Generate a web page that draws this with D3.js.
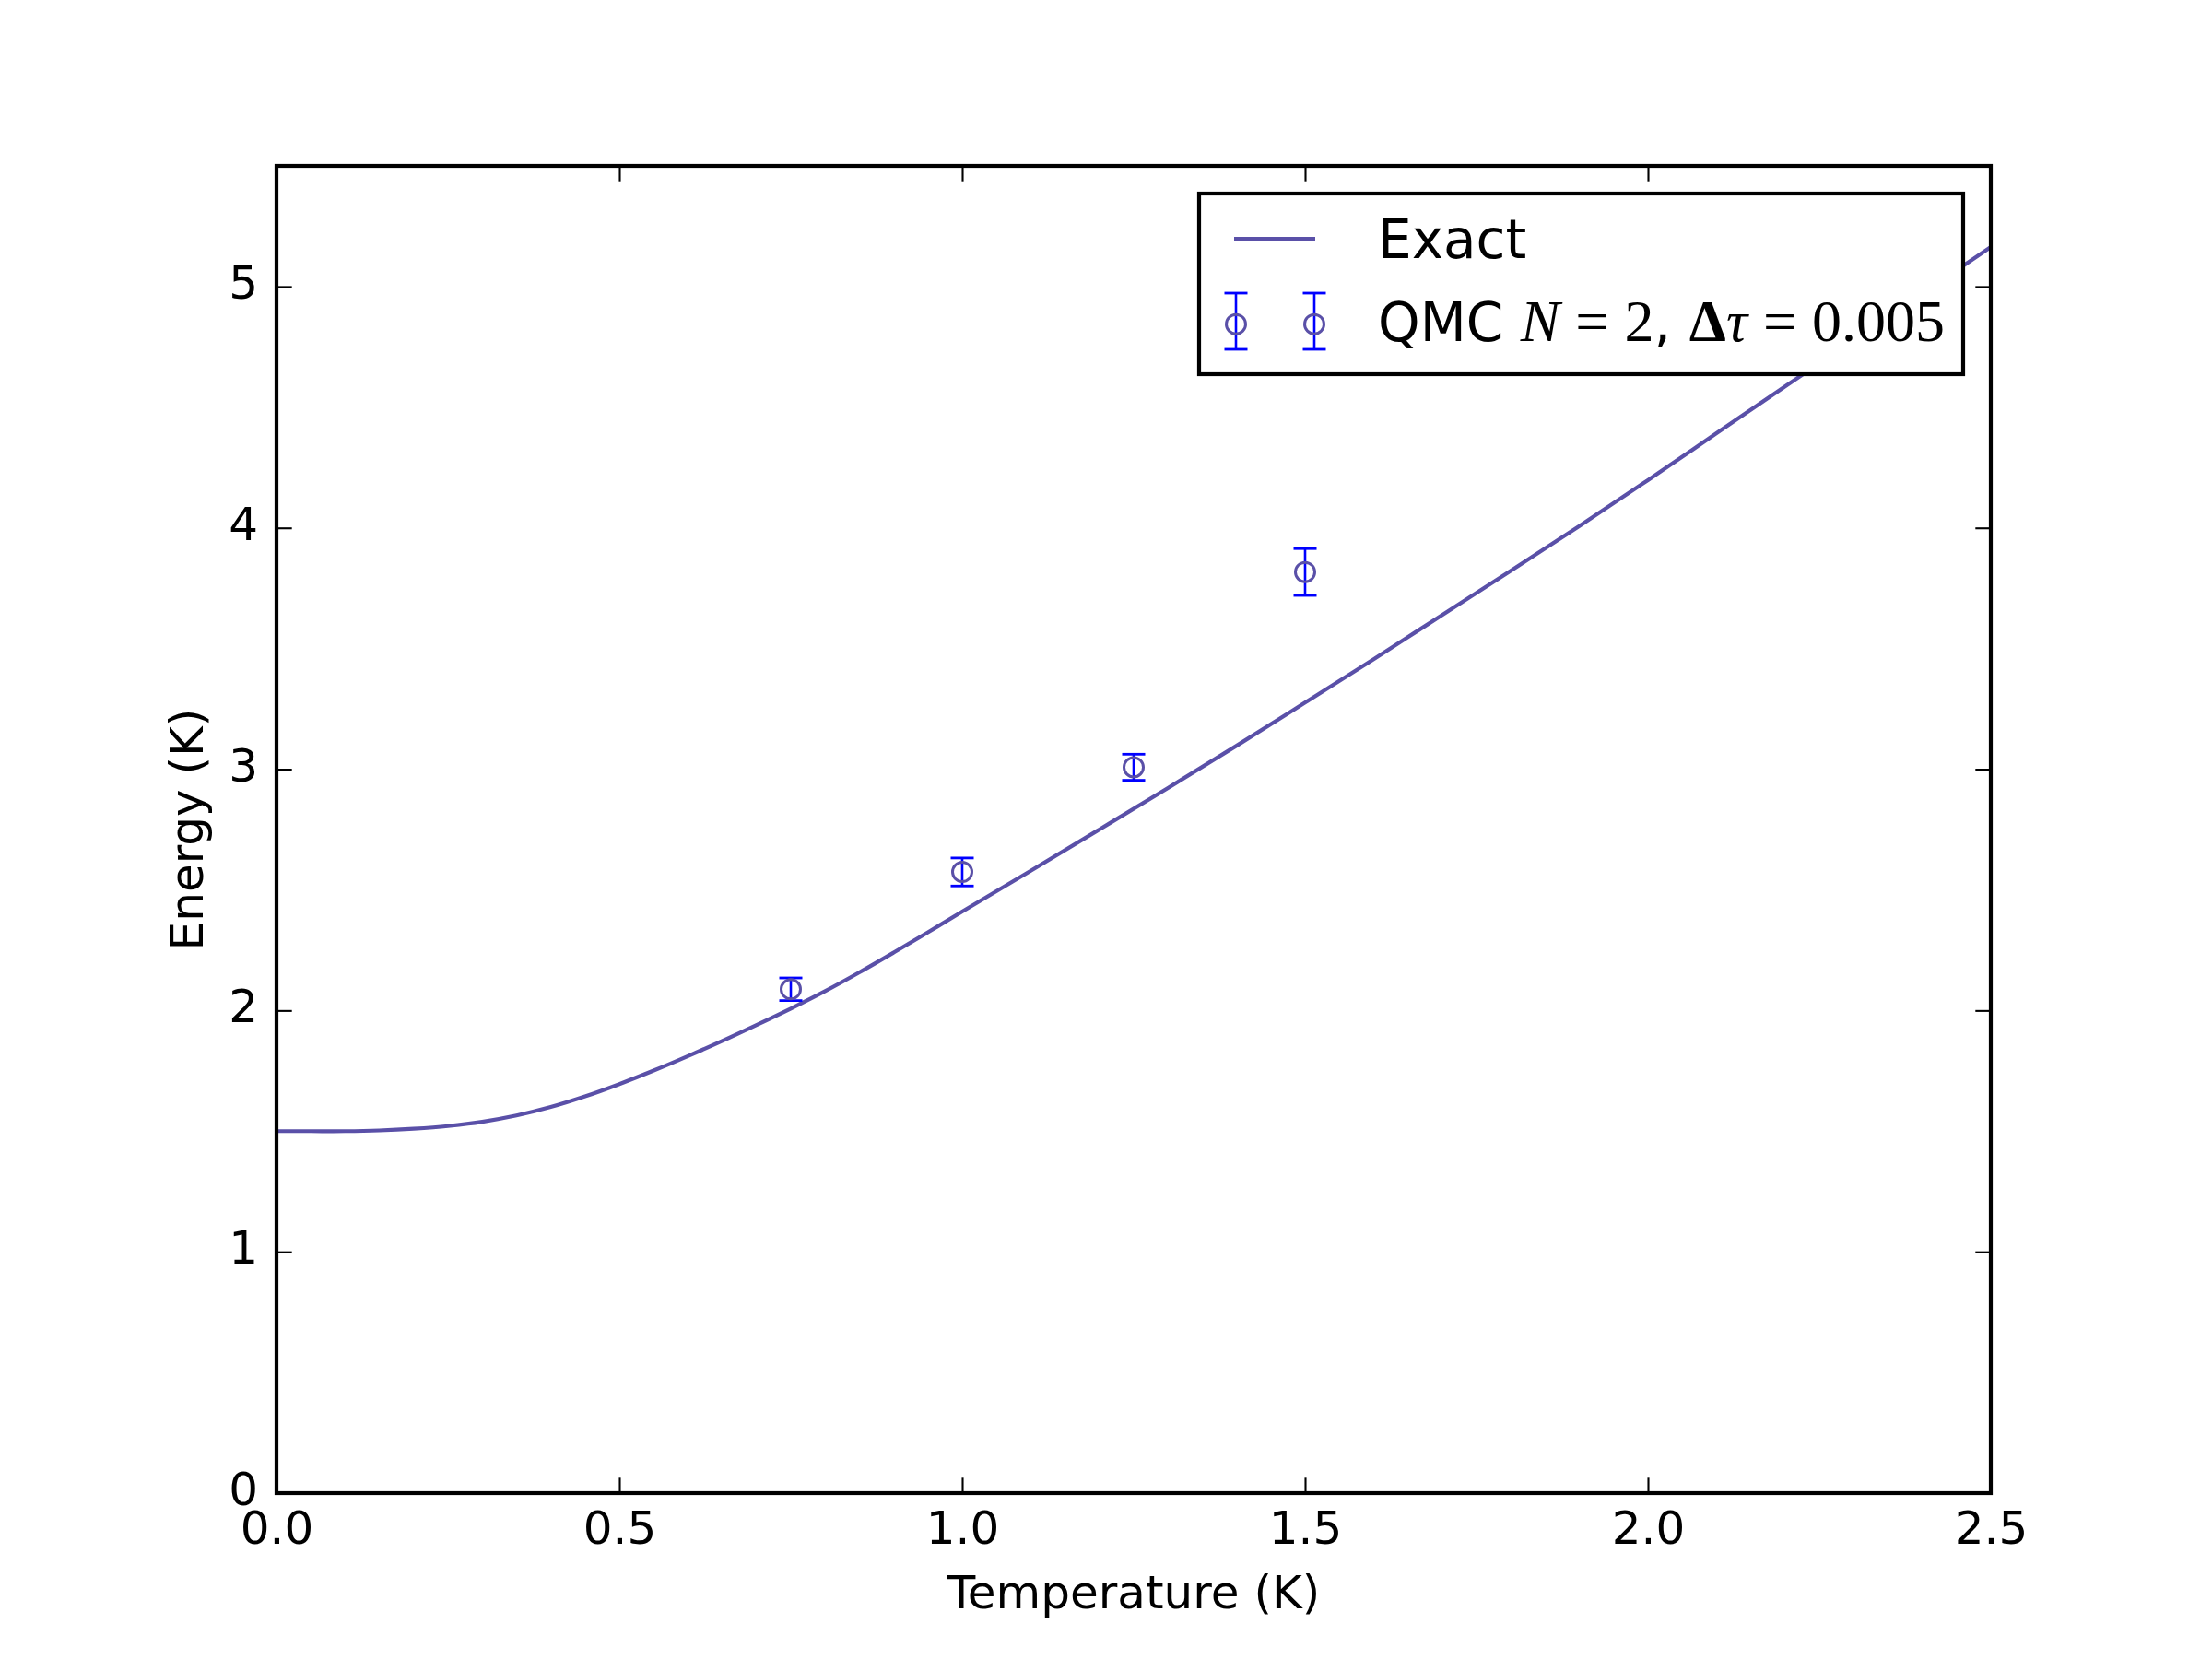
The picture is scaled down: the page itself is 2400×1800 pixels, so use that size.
<!DOCTYPE html>
<html>
<head>
<meta charset="utf-8">
<script src="https://cdn.jsdelivr.net/npm/d3@7"></script>
<style>
  html, body { margin: 0; padding: 0; background: #ffffff; }
  svg { display: block; }
</style>
</head>
<body>
<svg id="chart" width="2400" height="1800"></svg>
<script>
// ---- data ----
const exactT = [0, 0.05, 0.1, 0.15, 0.2, 0.25, 0.3, 0.35, 0.4, 0.45, 0.5, 0.55, 0.6, 0.65, 0.7, 0.75, 0.8, 0.85, 0.9, 0.95, 1.0, 1.1, 1.2, 1.3, 1.4, 1.5, 1.6, 1.7, 1.8, 1.9, 2.0, 2.1, 2.2, 2.3, 2.4, 2.5];
const exactE = [1.500, 1.500, 1.500, 1.503, 1.510, 1.521, 1.539, 1.565, 1.600, 1.644, 1.695, 1.751, 1.811, 1.874, 1.940, 2.008, 2.080, 2.158, 2.240, 2.324, 2.410, 2.579, 2.750, 2.922, 3.097, 3.276, 3.456, 3.639, 3.822, 4.008, 4.198, 4.392, 4.586, 4.778, 4.970, 5.164];
const qmcT = [0.75, 1.0, 1.25, 1.5];
const qmcE = [2.088, 2.574, 3.008, 3.817];
const qmcErr = [0.047, 0.058, 0.054, 0.097];
const xTicks = [0.0, 0.5, 1.0, 1.5, 2.0, 2.5];
const yTicks = [0, 1, 2, 3, 4, 5];
const xLabel = "Temperature (K)";
const yLabel = "Energy (K)";
const legendExact = "Exact";

// ---- layout ----
const L = 300, R = 2160, T = 180, B = 1620;
const lineColor = "#5a50a8";
const errColor = "#0000ff";
const svg = d3.select("#chart");
const x = d3.scaleLinear().domain([0, 2.5]).range([L, R]);
const y = d3.scaleLinear().domain([0, 5.5]).range([B, T]);

svg.append("defs").append("clipPath").attr("id", "plotclip")
  .append("rect").attr("x", L).attr("y", T).attr("width", R - L).attr("height", B - T);

const sans = "'DejaVu Sans', sans-serif";
const serif = "'Liberation Serif', 'DejaVu Serif', serif";
const tickLen = 16.7;

// axes (ticks inward on all four sides)
const gx = svg.append("g").attr("transform", `translate(0,${B})`)
  .call(d3.axisBottom(x).tickValues(xTicks).tickFormat(d3.format(".1f")).tickSizeInner(-tickLen).tickSizeOuter(0).tickPadding(19.5));
const gxt = svg.append("g").attr("transform", `translate(0,${T})`)
  .call(d3.axisTop(x).tickValues(xTicks).tickFormat("").tickSizeInner(-tickLen).tickSizeOuter(0));
const gy = svg.append("g").attr("transform", `translate(${L},0)`)
  .call(d3.axisLeft(y).tickValues(yTicks).tickFormat(d3.format("d")).tickSizeInner(-tickLen).tickSizeOuter(0).tickPadding(20));
const gyr = svg.append("g").attr("transform", `translate(${R},0)`)
  .call(d3.axisRight(y).tickValues(yTicks).tickFormat("").tickSizeInner(-tickLen).tickSizeOuter(0));

[gx, gxt, gy, gyr].forEach(g => {
  g.select(".domain").remove();
  g.selectAll(".tick line").attr("stroke", "#000").attr("stroke-width", 2.1);
  g.selectAll(".tick text").attr("fill", "#000").style("font-family", sans).style("font-size", "50px");
});
gy.selectAll(".tick text").attr("dy", "0.25em");

// exact curve
const line = d3.line().x((d, i) => x(exactT[i])).y(d => y(d)).curve(d3.curveCatmullRom.alpha(0.5));
svg.append("path").datum(exactE)
  .attr("clip-path", "url(#plotclip)")
  .attr("d", line)
  .attr("fill", "none").attr("stroke", lineColor).attr("stroke-width", 4.2)
  .attr("stroke-linejoin", "round");

// QMC error bars
const capW = 12.5;
const pts = svg.append("g");
qmcT.forEach((t, i) => {
  const cx = x(t), y1 = y(qmcE[i] + qmcErr[i]), y0 = y(qmcE[i] - qmcErr[i]);
  pts.append("line").attr("x1", cx).attr("x2", cx).attr("y1", y1).attr("y2", y0)
    .attr("stroke", errColor).attr("stroke-width", 2.6);
  [y1, y0].forEach(yy => pts.append("line").attr("x1", cx - capW).attr("x2", cx + capW)
    .attr("y1", yy).attr("y2", yy).attr("stroke", errColor).attr("stroke-width", 2.8));
});
pts.selectAll("circle.m").data(qmcE).join("circle").attr("class", "m")
  .attr("cx", (d, i) => x(qmcT[i])).attr("cy", d => y(d)).attr("r", 10.5)
  .attr("fill", "none").attr("stroke", lineColor).attr("stroke-width", 3);

// frame
svg.append("rect").attr("x", L).attr("y", T).attr("width", R - L).attr("height", B - T)
  .attr("fill", "none").attr("stroke", "#000").attr("stroke-width", 4.2);

// axis labels
svg.append("text").attr("x", (L + R) / 2).attr("y", 1745).attr("text-anchor", "middle")
  .style("font-family", sans).style("font-size", "50px").text(xLabel);
svg.append("text").attr("transform", `translate(220,${(T + B) / 2}) rotate(-90)`).attr("text-anchor", "middle")
  .style("font-family", sans).style("font-size", "50px").text(yLabel);

// legend
const lg = svg.append("g");
lg.append("rect").attr("x", 1301).attr("y", 210).attr("width", 829).attr("height", 196)
  .attr("fill", "#fff").attr("stroke", "#000").attr("stroke-width", 4.2);
lg.append("line").attr("x1", 1339).attr("x2", 1427).attr("y1", 259).attr("y2", 259)
  .attr("stroke", lineColor).attr("stroke-width", 4.2);
lg.append("text").attr("x", 1495).attr("y", 280).style("font-family", sans).style("font-size", "58px").text(legendExact);
[1341, 1426].forEach(cx => {
  lg.append("line").attr("x1", cx).attr("x2", cx).attr("y1", 318).attr("y2", 379).attr("stroke", errColor).attr("stroke-width", 2.6);
  [318, 379].forEach(yy => lg.append("line").attr("x1", cx - capW).attr("x2", cx + capW).attr("y1", yy).attr("y2", yy)
    .attr("stroke", errColor).attr("stroke-width", 2.8));
  lg.append("circle").attr("cx", cx).attr("cy", 351.7).attr("r", 10.5).attr("fill", "none")
    .attr("stroke", lineColor).attr("stroke-width", 3);
});
const qt = lg.append("text").attr("x", 1495).attr("y", 370).style("font-family", sans).style("font-size", "58px");
qt.append("tspan").text("QMC ");
qt.append("tspan").style("font-family", serif).style("font-style", "italic").style("font-size", "64px").text("N");
qt.append("tspan").attr("dx", 17).style("font-family", serif).style("font-size", "64px").text("=");
qt.append("tspan").attr("dx", 17).style("font-family", serif).style("font-size", "64px").text("2");
qt.append("tspan").text(",");
qt.append("tspan").attr("dx", 20).style("font-family", serif).style("font-size", "64px").style("font-weight", "bold").text("\u0394");
qt.append("tspan").style("font-family", serif).style("font-style", "italic").style("font-size", "64px").text("\u03c4");
qt.append("tspan").attr("dx", 17).style("font-family", serif).style("font-size", "64px").text("=");
qt.append("tspan").attr("dx", 17).style("font-family", serif).style("font-size", "64px").text("0.005");
</script>
</body>
</html>
